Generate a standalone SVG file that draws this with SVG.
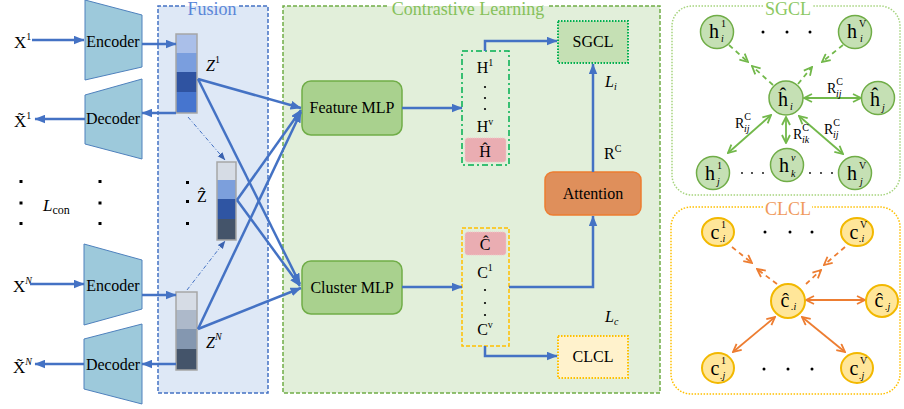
<svg xmlns="http://www.w3.org/2000/svg" width="904" height="409" viewBox="0 0 904 409" font-family="'Liberation Serif', 'Times New Roman', serif">
  <style>
    text { font-family: "Liberation Serif", "Times New Roman", serif; fill: #000; }
    .t16 { font-size: 16px; }
    .t17 { font-size: 17px; }
    .it { font-style: italic; }
    .title { font-size: 18px; text-anchor: middle; }
    .conn { stroke: #4472c4; stroke-width: 2.5; fill: none; }
    .dd { stroke: #4472c4; stroke-width: 1; fill: none; stroke-dasharray: 4 2 1 2; }
    .coder { fill: #9dc9db; stroke: #4f81bd; stroke-width: 1; }
    .bar { stroke: #a6a6a6; stroke-width: 1.5; }
    .mlp { fill: #a9d18e; stroke: #70ad47; stroke-width: 1.5; }
    .pink { fill: #eaadb2; stroke: #f2c4c8; stroke-width: 1; stroke-dasharray: 1 1; }
    .gn { fill: #c5e0b4; stroke: #70ad47; stroke-width: 1.5; }
    .on { fill: #ffe699; stroke: #f2b800; stroke-width: 2; }
    .ge { stroke: #72b84a; stroke-width: 1.8; fill: none; }
    .oe { stroke: #ed7d31; stroke-width: 1.8; fill: none; }
    .dash { stroke-dasharray: 5 4; }
    .nl { font-size: 20px; text-anchor: middle; }
    .sm { font-size: 10px; }
    .rl { font-size: 14px; }
    .dot { fill: #000; }
  </style>
  <defs>
    <marker id="ab" viewBox="0 0 10 8" refX="9.5" refY="4" markerWidth="11" markerHeight="9" markerUnits="userSpaceOnUse" orient="auto">
      <path d="M0,0 L10,4 L0,8 Z" fill="#4472c4"/>
    </marker>
    <marker id="abs" viewBox="0 0 10 8" refX="9.5" refY="4" markerWidth="8" markerHeight="7" markerUnits="userSpaceOnUse" orient="auto">
      <path d="M0,0 L10,4 L0,8 Z" fill="#3a62b0"/>
    </marker>
    <marker id="ag" viewBox="0 0 10 10" refX="9" refY="5" markerWidth="10" markerHeight="10" markerUnits="userSpaceOnUse" orient="auto-start-reverse">
      <path d="M1,1 L9,5 L1,9" fill="none" stroke="#72b84a" stroke-width="1.8"/>
    </marker>
    <marker id="ao" viewBox="0 0 10 10" refX="9" refY="5" markerWidth="10" markerHeight="10" markerUnits="userSpaceOnUse" orient="auto-start-reverse">
      <path d="M1,1 L9,5 L1,9" fill="none" stroke="#ed7d31" stroke-width="1.8"/>
    </marker>
  </defs>

  <rect width="904" height="409" fill="#fff"/>

  <!-- Fusion panel -->
  <g id="fusion">
    <rect x="158" y="6" width="110" height="387" fill="#dee8f6"/>
    <path d="M185,6 H158 V393 H268 V6 H239" fill="none" stroke="#4472c4" stroke-width="1.5" stroke-dasharray="4 2"/>
    <text x="212" y="15" class="title" style="fill:#5a86d8">Fusion</text>
  </g>

  <!-- Contrastive learning panel -->
  <g id="contrastive">
    <rect x="283" y="6" width="377" height="387" fill="#e2efda"/>
    <path d="M387,6 H283 V393 H660 V6 H549" fill="none" stroke="#70ad47" stroke-width="1.5" stroke-dasharray="4 2"/>
    <text x="468" y="15" class="title" style="fill:#86c15a">Contrastive Learning</text>
  </g>

  <!-- Inputs / outputs -->
  <g id="inputs">
    <text x="14" y="48" class="t17">X<tspan font-size="10" dy="-8">1</tspan></text>
    <text x="14" y="127" class="t17">X̃<tspan font-size="10" dy="-8">1</tspan></text>
    <text x="13" y="292" class="t17">X<tspan font-size="10" dy="-8" class="it">N</tspan></text>
    <text x="13" y="373" class="t17">X̃<tspan font-size="10" dy="-8" class="it">N</tspan></text>
    <rect x="19.5" y="180" width="3" height="3" class="dot"/>
    <rect x="19.5" y="201.5" width="3" height="3" class="dot"/>
    <rect x="19.5" y="222" width="3" height="3" class="dot"/>
    <rect x="98.5" y="180" width="3" height="3" class="dot"/>
    <rect x="98.5" y="201.5" width="3" height="3" class="dot"/>
    <rect x="98.5" y="222" width="3" height="3" class="dot"/>
    <text x="43" y="211" class="t17 it">L<tspan font-size="12" dy="3" font-style="normal">con</tspan></text>
  </g>

  <!-- Encoders and decoders -->
  <g id="encoder1">
    <polygon points="85,0 142,15 142,67 85,80" class="coder"/>
    <text x="113" y="47" class="t16" text-anchor="middle">Encoder</text>
  </g>
  <g id="decoder1">
    <polygon points="85,95 142,79 142,159 85,144" class="coder"/>
    <text x="113" y="124" class="t16" text-anchor="middle">Decoder</text>
  </g>
  <g id="encoderN">
    <polygon points="84,244 142,260 142,309 84,325" class="coder"/>
    <text x="113" y="291" class="t16" text-anchor="middle">Encoder</text>
  </g>
  <g id="decoderN">
    <polygon points="84,339 142,324 142,404 84,389" class="coder"/>
    <text x="113" y="370" class="t16" text-anchor="middle">Decoder</text>
  </g>

  <!-- Latent representations -->
  <g id="z1">
    <rect x="176" y="34" width="21" height="19" fill="#aabfe9"/>
    <rect x="176" y="53" width="21" height="19" fill="#7a9ede"/>
    <rect x="176" y="72" width="21" height="20" fill="#2f53a1"/>
    <rect x="176" y="92" width="21" height="21" fill="#4675cf"/>
    <rect x="176" y="34" width="21" height="79" fill="none" class="bar"/>
    <text x="206" y="71" class="t16 it">Z<tspan font-size="10" dy="-8" font-style="normal">1</tspan></text>
  </g>
  <g id="zhat">
    <rect x="217" y="162" width="19" height="18" fill="#d6dce5"/>
    <rect x="217" y="180" width="19" height="19" fill="#7c9fdc"/>
    <rect x="217" y="199" width="19" height="20" fill="#2f55a3"/>
    <rect x="217" y="219" width="19" height="21" fill="#44546a"/>
    <rect x="217" y="162" width="19" height="78" fill="none" class="bar"/>
    <text x="197" y="202" class="t16">Ẑ</text>
    <rect x="186" y="181" width="3" height="3" class="dot"/>
    <rect x="186" y="200" width="3" height="3" class="dot"/>
    <rect x="186" y="222" width="3" height="3" class="dot"/>
  </g>
  <g id="zN">
    <rect x="176" y="292" width="21" height="18" fill="#d6dce5"/>
    <rect x="176" y="310" width="21" height="19" fill="#adb9ca"/>
    <rect x="176" y="329" width="21" height="20" fill="#8497b0"/>
    <rect x="176" y="349" width="21" height="21" fill="#44546a"/>
    <rect x="176" y="292" width="21" height="78" fill="none" class="bar"/>
    <text x="206" y="348" class="t16 it">Z<tspan font-size="10" dy="-8">N</tspan></text>
  </g>

  <!-- Projection heads -->
  <g id="featureMLP">
    <rect x="302" y="81" width="100" height="54" rx="9" class="mlp"/>
    <text x="352" y="113" class="t16" text-anchor="middle">Feature MLP</text>
  </g>
  <g id="clusterMLP">
    <rect x="302" y="261" width="100" height="53" rx="9" class="mlp"/>
    <text x="352" y="293" class="t16" text-anchor="middle">Cluster MLP</text>
  </g>

  <!-- Feature representations -->
  <g id="hset">
    <rect x="462" y="51" width="47" height="114" fill="none" stroke="#00b050" stroke-width="1.5" stroke-dasharray="6 3 2 3"/>
    <text x="485" y="73" class="t16" text-anchor="middle">H<tspan font-size="10" dy="-7">1</tspan></text>
    <circle cx="485" cy="87" r="1.1" class="dot"/>
    <circle cx="485" cy="98" r="1.1" class="dot"/>
    <circle cx="485" cy="109" r="1.1" class="dot"/>
    <text x="485" y="132" class="t16" text-anchor="middle">H<tspan font-size="10" dy="-7">v</tspan></text>
    <rect x="465" y="138" width="41" height="24" rx="3" class="pink"/>
    <text x="485" y="157" class="t16" text-anchor="middle">Ĥ</text>
  </g>

  <!-- Cluster representations -->
  <g id="cset">
    <rect x="462" y="228" width="47" height="118" fill="none" stroke="#ffc000" stroke-width="1.5" stroke-dasharray="4 2"/>
    <rect x="465" y="232" width="41" height="23" rx="3" class="pink"/>
    <text x="485" y="250" class="t16" text-anchor="middle">Ĉ</text>
    <text x="485" y="278" class="t16" text-anchor="middle">C<tspan font-size="10" dy="-7">1</tspan></text>
    <circle cx="485" cy="290" r="1.1" class="dot"/>
    <circle cx="485" cy="303" r="1.1" class="dot"/>
    <circle cx="485" cy="315" r="1.1" class="dot"/>
    <text x="485" y="335" class="t16" text-anchor="middle">C<tspan font-size="10" dy="-7">v</tspan></text>
  </g>

  <g id="sgclBox">
    <rect x="558" y="21" width="70" height="42" fill="#c5e0b4" stroke="#00b050" stroke-width="2" stroke-dasharray="1.5 1.5"/>
    <text x="593" y="47" class="t16" text-anchor="middle">SGCL</text>
  </g>
  <g id="attention">
    <rect x="545" y="172" width="96" height="43" rx="8" fill="#df8f5b" stroke="#ed7d31" stroke-width="1.5"/>
    <text x="593" y="199" class="t16" text-anchor="middle">Attention</text>
  </g>
  <g id="clclBox">
    <rect x="558" y="336" width="70" height="42" fill="#fff2cc" stroke="#ffc000" stroke-width="2" stroke-dasharray="1.5 1.5"/>
    <text x="593" y="362" class="t16" text-anchor="middle">CLCL</text>
  </g>

  <g id="lossLabels">
    <text x="605" y="87" class="t16 it">L<tspan font-size="10" dy="3">i</tspan></text>
    <text x="604" y="159" class="t16">R<tspan font-size="10" dy="-7">C</tspan></text>
    <text x="605" y="322" class="t16 it">L<tspan font-size="10" dy="3">c</tspan></text>
  </g>

  <!-- Connectors -->
  <g id="connectors">
    <path d="M32,40 H84" class="conn" marker-end="url(#ab)"/>
    <path d="M85,119 H35" class="conn" marker-end="url(#ab)"/>
    <path d="M30,284 H84" class="conn" marker-end="url(#ab)"/>
    <path d="M84,364 H35" class="conn" marker-end="url(#ab)"/>
    <path d="M142,44 H176" class="conn" marker-end="url(#ab)"/>
    <path d="M176,113 H142" class="conn" marker-end="url(#ab)"/>
    <path d="M142,295 H176" class="conn" marker-end="url(#ab)"/>
    <path d="M176,364 H142" class="conn" marker-end="url(#ab)"/>

    <path d="M188,117 L225,160" class="dd" marker-end="url(#abs)"/>
    <path d="M187,290 L225,241" class="dd" marker-end="url(#abs)"/>

    <path d="M198,79 L301,108" class="conn" marker-end="url(#ab)"/>
    <path d="M198,79 L300,284" class="conn" marker-end="url(#ab)"/>
    <path d="M237,200 L301,110" class="conn" marker-end="url(#ab)"/>
    <path d="M237,200 L300,286" class="conn" marker-end="url(#ab)"/>
    <path d="M198,329 L301,112" class="conn" marker-end="url(#ab)"/>
    <path d="M198,329 L301,288" class="conn" marker-end="url(#ab)"/>

    <path d="M402,108 H462" class="conn" marker-end="url(#ab)"/>
    <path d="M402,287 H462" class="conn" marker-end="url(#ab)"/>
    <path d="M485,51 V41 H557" class="conn" marker-end="url(#ab)"/>
    <path d="M593,172 V64" class="conn" marker-end="url(#ab)"/>
    <path d="M509,287 H593 V216" class="conn" marker-end="url(#ab)"/>
    <path d="M485,346 V356 H557" class="conn" marker-end="url(#ab)"/>

    <!-- SGCL graph edges -->
    <path d="M729,45 L748,62" class="ge dash" marker-end="url(#ag)"/>
    <path d="M773,85 L752,66" class="ge dash" marker-end="url(#ag)"/>
    <path d="M843,45 L822,62" class="ge dash" marker-end="url(#ag)"/>
    <path d="M798,84 L812,67" class="ge dash" marker-end="url(#ag)"/>
    <path d="M804,98 L861,98" class="ge" marker-start="url(#ag)" marker-end="url(#ag)"/>
    <path d="M771,115 L728,153" class="ge" marker-start="url(#ag)" marker-end="url(#ag)"/>
    <path d="M786,117 L786,143" class="ge" marker-start="url(#ag)" marker-end="url(#ag)"/>
    <path d="M799,116 L843,154" class="ge" marker-start="url(#ag)" marker-end="url(#ag)"/>

    <!-- CLCL graph edges -->
    <path d="M732,247 L752,263" class="oe dash" marker-end="url(#ao)"/>
    <path d="M777,284 L757,269" class="oe dash" marker-end="url(#ao)"/>
    <path d="M845,247 L824,265" class="oe dash" marker-end="url(#ao)"/>
    <path d="M806,284 L821,270" class="oe dash" marker-end="url(#ao)"/>
    <path d="M806,300 L865,300" class="oe" marker-start="url(#ao)" marker-end="url(#ao)"/>
    <path d="M775,317 L733,352" class="oe" marker-start="url(#ao)" marker-end="url(#ao)"/>
    <path d="M802,317 L845,352" class="oe" marker-start="url(#ao)" marker-end="url(#ao)"/>
  </g>

  <!-- SGCL graph -->
  <g id="sgclGraph">
    <path d="M763,6 H692 A20,20 0 0 0 672,26 V175 A20,20 0 0 0 692,195 H880 A20,20 0 0 0 900,175 V26 A20,20 0 0 0 880,6 H813" fill="none" stroke="#a6d47e" stroke-width="1.5" stroke-dasharray="1.5 1.5"/>
    <text x="788" y="15" class="title" style="fill:#8cc862">SGCL</text>
    <circle cx="763" cy="32" r="1.5" class="dot"/>
    <circle cx="787" cy="32" r="1.5" class="dot"/>
    <circle cx="810" cy="32" r="1.5" class="dot"/>
    <circle cx="742" cy="173" r="0.9" class="dot"/>
    <circle cx="752" cy="173" r="0.9" class="dot"/>
    <circle cx="763" cy="173" r="0.9" class="dot"/>
    <circle cx="810" cy="173" r="0.9" class="dot"/>
    <circle cx="821" cy="173" r="0.9" class="dot"/>
    <circle cx="832" cy="173" r="0.9" class="dot"/>
    <text x="827" y="93" class="rl">R<tspan class="sm" dy="-8">C</tspan><tspan class="sm it" dx="-7" dy="12">ij</tspan></text>
    <text x="735" y="128" class="rl">R<tspan class="sm" dy="-8">C</tspan><tspan class="sm it" dx="-7" dy="12">ij</tspan></text>
    <text x="793" y="139" class="rl">R<tspan class="sm" dy="-8">C</tspan><tspan class="sm it" dx="-7" dy="12">ik</tspan></text>
    <text x="824" y="134" class="rl">R<tspan class="sm" dy="-8">C</tspan><tspan class="sm it" dx="-7" dy="12">ij</tspan></text>
  </g>
  <g id="h_i_1">
    <circle cx="717" cy="32" r="16.5" class="gn"/>
    <text x="714" y="38" class="nl">h</text>
    <text x="721" y="27" class="sm">1</text>
    <text x="721" y="42" class="sm it">i</text>
  </g>
  <g id="h_i_V">
    <circle cx="855" cy="32" r="16.5" class="gn"/>
    <text x="852" y="38" class="nl">h</text>
    <text x="859" y="27" class="sm">V</text>
    <text x="860" y="42" class="sm it">i</text>
  </g>
  <g id="hhat_i">
    <circle cx="786" cy="98" r="17" class="gn"/>
    <text x="783" y="106" class="nl">ĥ</text>
    <text x="790" y="110" class="sm it">i</text>
  </g>
  <g id="hhat_j">
    <circle cx="878" cy="98" r="16.5" class="gn"/>
    <text x="875" y="106" class="nl">ĥ</text>
    <text x="882" y="111" class="sm it">j</text>
  </g>
  <g id="h_j_1">
    <circle cx="713" cy="173" r="16.5" class="gn"/>
    <text x="710" y="180" class="nl">h</text>
    <text x="717" y="169" class="sm">1</text>
    <text x="717" y="185" class="sm it">j</text>
  </g>
  <g id="h_k_v">
    <circle cx="787" cy="165" r="16.5" class="gn"/>
    <text x="784" y="172" class="nl">h</text>
    <text x="791" y="161" class="sm it">v</text>
    <text x="791" y="177" class="sm it">k</text>
  </g>
  <g id="h_j_V">
    <circle cx="855" cy="173" r="16.5" class="gn"/>
    <text x="852" y="180" class="nl">h</text>
    <text x="859" y="169" class="sm">V</text>
    <text x="860" y="185" class="sm it">j</text>
  </g>

  <!-- CLCL graph -->
  <g id="clclGraph">
    <path d="M763,207 H691 A20,20 0 0 0 671,227 V374 A20,20 0 0 0 691,394 H880 A20,20 0 0 0 900,374 V227 A20,20 0 0 0 880,207 H812" fill="none" stroke="#ffc000" stroke-width="1.5" stroke-dasharray="1.5 1.5"/>
    <text x="788" y="215" class="title" style="fill:#f09a5c">CLCL</text>
    <circle cx="765" cy="232" r="1.5" class="dot"/>
    <circle cx="790" cy="232" r="1.5" class="dot"/>
    <circle cx="812" cy="232" r="1.5" class="dot"/>
    <circle cx="764" cy="369" r="1.5" class="dot"/>
    <circle cx="788" cy="369" r="1.5" class="dot"/>
    <circle cx="812" cy="369" r="1.5" class="dot"/>
  </g>
  <g id="c_i_1">
    <ellipse cx="718" cy="232" rx="16" ry="14" class="on"/>
    <text x="715" y="239" class="nl">c</text>
    <text x="721" y="228" class="sm">1</text>
    <text x="720" y="242" class="sm it">.i</text>
  </g>
  <g id="c_i_V">
    <ellipse cx="857" cy="232" rx="16" ry="14" class="on"/>
    <text x="854" y="239" class="nl">c</text>
    <text x="860" y="228" class="sm">V</text>
    <text x="859" y="242" class="sm it">.i</text>
  </g>
  <g id="chat_i">
    <ellipse cx="788" cy="301" rx="17" ry="17" class="on"/>
    <text x="785" y="307" class="nl">ĉ</text>
    <text x="791" y="310" class="sm it">.i</text>
  </g>
  <g id="chat_j">
    <ellipse cx="882" cy="301" rx="16" ry="16" class="on"/>
    <text x="879" y="307" class="nl">ĉ</text>
    <text x="885" y="310" class="sm it">.j</text>
  </g>
  <g id="c_j_1">
    <ellipse cx="718" cy="368" rx="16" ry="15" class="on"/>
    <text x="715" y="375" class="nl">c</text>
    <text x="721" y="364" class="sm">1</text>
    <text x="720" y="379" class="sm it">.j</text>
  </g>
  <g id="c_j_V">
    <ellipse cx="857" cy="368" rx="16" ry="15" class="on"/>
    <text x="854" y="375" class="nl">c</text>
    <text x="860" y="364" class="sm">V</text>
    <text x="859" y="379" class="sm it">.j</text>
  </g>
</svg>
